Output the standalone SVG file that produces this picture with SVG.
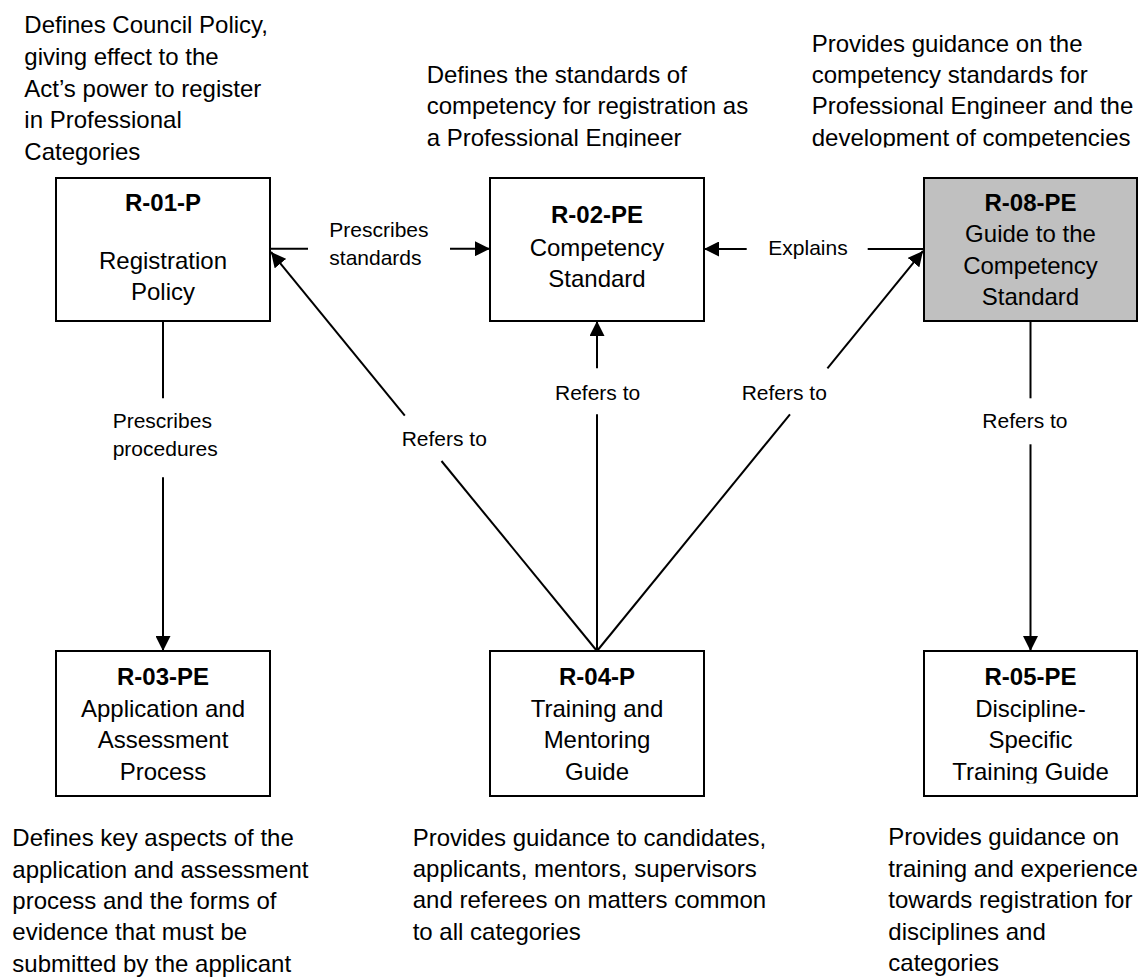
<svg xmlns="http://www.w3.org/2000/svg" width="1139" height="977" viewBox="0 0 1139 977">
  <style>
    text { font-family: "Liberation Sans", Arial, sans-serif; fill: #000; }
    .desc { font-size: 24px; }
    .box { fill: #fff; stroke: #000; stroke-width: 2; }
    .box.hl { fill: #c0c0c0; }
    .t { font-size: 24px; text-anchor: middle; }
    .b { font-weight: bold; }
    .lbl { font-size: 21px; }
    .conn line { stroke: #000; stroke-width: 2; fill: none; }
  </style>
  <defs>
    <marker id="arrow" markerUnits="userSpaceOnUse" markerWidth="15" markerHeight="15" viewBox="0 0 15 15" refX="15" refY="7.5" orient="auto">
      <path d="M0,0 L15,7.5 L0,15 Z" fill="#000"/>
    </marker>
    <clipPath id="clipTop"><rect x="0" y="0" width="1139" height="147.5"/></clipPath>
    <clipPath id="clipR05"><rect x="924" y="651" width="213" height="132.5"/></clipPath>
  </defs>
  <rect x="0" y="0" width="1139" height="977" fill="#fff"/>

  <!-- Descriptions -->
  <g id="desc-r01p">
    <text class="desc" x="24.3">
      <tspan x="24.3" y="33.3">Defines Council Policy,</tspan>
      <tspan x="24.3" y="65">giving effect to the</tspan>
      <tspan x="24.3" y="96.7">Act’s power to register</tspan>
      <tspan x="24.3" y="128.3">in Professional</tspan>
      <tspan x="24.3" y="159.5">Categories</tspan>
    </text>
  </g>
  <g id="desc-r02pe" clip-path="url(#clipTop)">
    <text class="desc">
      <tspan x="426.7" y="82.7">Defines the standards of</tspan>
      <tspan x="426.7" y="114.3">competency for registration as</tspan>
      <tspan x="426.7" y="145.8">a Professional Engineer</tspan>
    </text>
  </g>
  <g id="desc-r08pe" clip-path="url(#clipTop)">
    <text class="desc">
      <tspan x="811.7" y="51.7">Provides guidance on the</tspan>
      <tspan x="811.7" y="82.7">competency standards for</tspan>
      <tspan x="811.7" y="114.3">Professional Engineer and the</tspan>
      <tspan x="811.7" y="145.8">development of competencies</tspan>
    </text>
  </g>
  <g id="desc-r03pe">
    <text class="desc">
      <tspan x="12.3" y="846">Defines key aspects of the</tspan>
      <tspan x="12.3" y="877.5">application and assessment</tspan>
      <tspan x="12.3" y="908.5">process and the forms of</tspan>
      <tspan x="12.3" y="940">evidence that must be</tspan>
      <tspan x="12.3" y="971.5">submitted by the applicant</tspan>
    </text>
  </g>
  <g id="desc-r04p">
    <text class="desc">
      <tspan x="412.7" y="845.5">Provides guidance to candidates,</tspan>
      <tspan x="412.7" y="877">applicants, mentors, supervisors</tspan>
      <tspan x="412.7" y="908">and referees on matters common</tspan>
      <tspan x="412.7" y="939.5">to all categories</tspan>
    </text>
  </g>
  <g id="desc-r05pe">
    <text class="desc">
      <tspan x="888.3" y="845">Provides guidance on</tspan>
      <tspan x="888.3" y="876.5">training and experience</tspan>
      <tspan x="888.3" y="908">towards registration for</tspan>
      <tspan x="888.3" y="939.5">disciplines and</tspan>
      <tspan x="888.3" y="971">categories</tspan>
    </text>
  </g>

  <!-- Connectors -->
  <g id="connectors" class="conn">
    <line x1="270" y1="248.7" x2="308" y2="248.7"/>
    <line x1="450" y1="248.7" x2="490" y2="248.7" marker-end="url(#arrow)"/>
    <line x1="924" y1="249" x2="867.7" y2="249"/>
    <line x1="746.7" y1="249" x2="704" y2="249" marker-end="url(#arrow)"/>
    <line x1="163" y1="321" x2="163" y2="398.3"/>
    <line x1="163" y1="477.3" x2="163" y2="651" marker-end="url(#arrow)"/>
    <line x1="597" y1="651" x2="441.5" y2="461"/>
    <line x1="404.8" y1="415.7" x2="271" y2="252" marker-end="url(#arrow)"/>
    <line x1="597" y1="651" x2="597" y2="414.3"/>
    <line x1="597" y1="368.3" x2="597" y2="321" marker-end="url(#arrow)"/>
    <line x1="597" y1="651" x2="790" y2="414.3"/>
    <line x1="827.4" y1="368.3" x2="923" y2="251" marker-end="url(#arrow)"/>
    <line x1="1030.5" y1="321" x2="1030.5" y2="398.3"/>
    <line x1="1030.5" y1="444.3" x2="1030.5" y2="651" marker-end="url(#arrow)"/>
    <text class="lbl"><tspan x="329.3" y="236.7">Prescribes</tspan><tspan x="329.3" y="265">standards</tspan></text>
    <text class="lbl" x="768.3" y="255">Explains</text>
    <text class="lbl"><tspan x="112.7" y="428.3">Prescribes</tspan><tspan x="112.7" y="456">procedures</tspan></text>
    <text class="lbl" x="401.7" y="446">Refers to</text>
    <text class="lbl" x="555" y="400">Refers to</text>
    <text class="lbl" x="741.7" y="400">Refers to</text>
    <text class="lbl" x="982.3" y="428.3">Refers to</text>
  </g>

  <!-- Nodes -->
  <g id="R-01-P">
    <rect class="box" x="56" y="178" width="214" height="143"/>
    <text class="t b" x="163" y="210.7">R-01-P</text>
    <text class="t" x="163" y="269.3">Registration</text>
    <text class="t" x="163" y="300.3">Policy</text>
  </g>
  <g id="R-02-PE">
    <rect class="box" x="490" y="178" width="214" height="143"/>
    <text class="t b" x="597" y="223">R-02-PE</text>
    <text class="t" x="597" y="255.5">Competency</text>
    <text class="t" x="597" y="287">Standard</text>
  </g>
  <g id="R-08-PE">
    <rect class="box hl" x="924" y="178" width="213" height="143"/>
    <text class="t b" x="1030.5" y="210.7">R-08-PE</text>
    <text class="t" x="1030.5" y="242.3">Guide to the</text>
    <text class="t" x="1030.5" y="274">Competency</text>
    <text class="t" x="1030.5" y="305.3">Standard</text>
  </g>
  <g id="R-03-PE">
    <rect class="box" x="56" y="651" width="214" height="145"/>
    <text class="t b" x="163" y="685">R-03-PE</text>
    <text class="t" x="163" y="716.7">Application and</text>
    <text class="t" x="163" y="748.3">Assessment</text>
    <text class="t" x="163" y="780">Process</text>
  </g>
  <g id="R-04-P">
    <rect class="box" x="490" y="651" width="214" height="145"/>
    <text class="t b" x="597" y="685">R-04-P</text>
    <text class="t" x="597" y="716.7">Training and</text>
    <text class="t" x="597" y="748.3">Mentoring</text>
    <text class="t" x="597" y="780">Guide</text>
  </g>
  <g id="R-05-PE">
    <rect class="box" x="924" y="651" width="213" height="145"/>
    <g clip-path="url(#clipR05)">
      <text class="t b" x="1030.5" y="685">R-05-PE</text>
      <text class="t" x="1030.5" y="716.7">Discipline-</text>
      <text class="t" x="1030.5" y="748.3">Specific</text>
      <text class="t" x="1030.5" y="780">Training Guide</text>
    </g>
  </g>
</svg>
